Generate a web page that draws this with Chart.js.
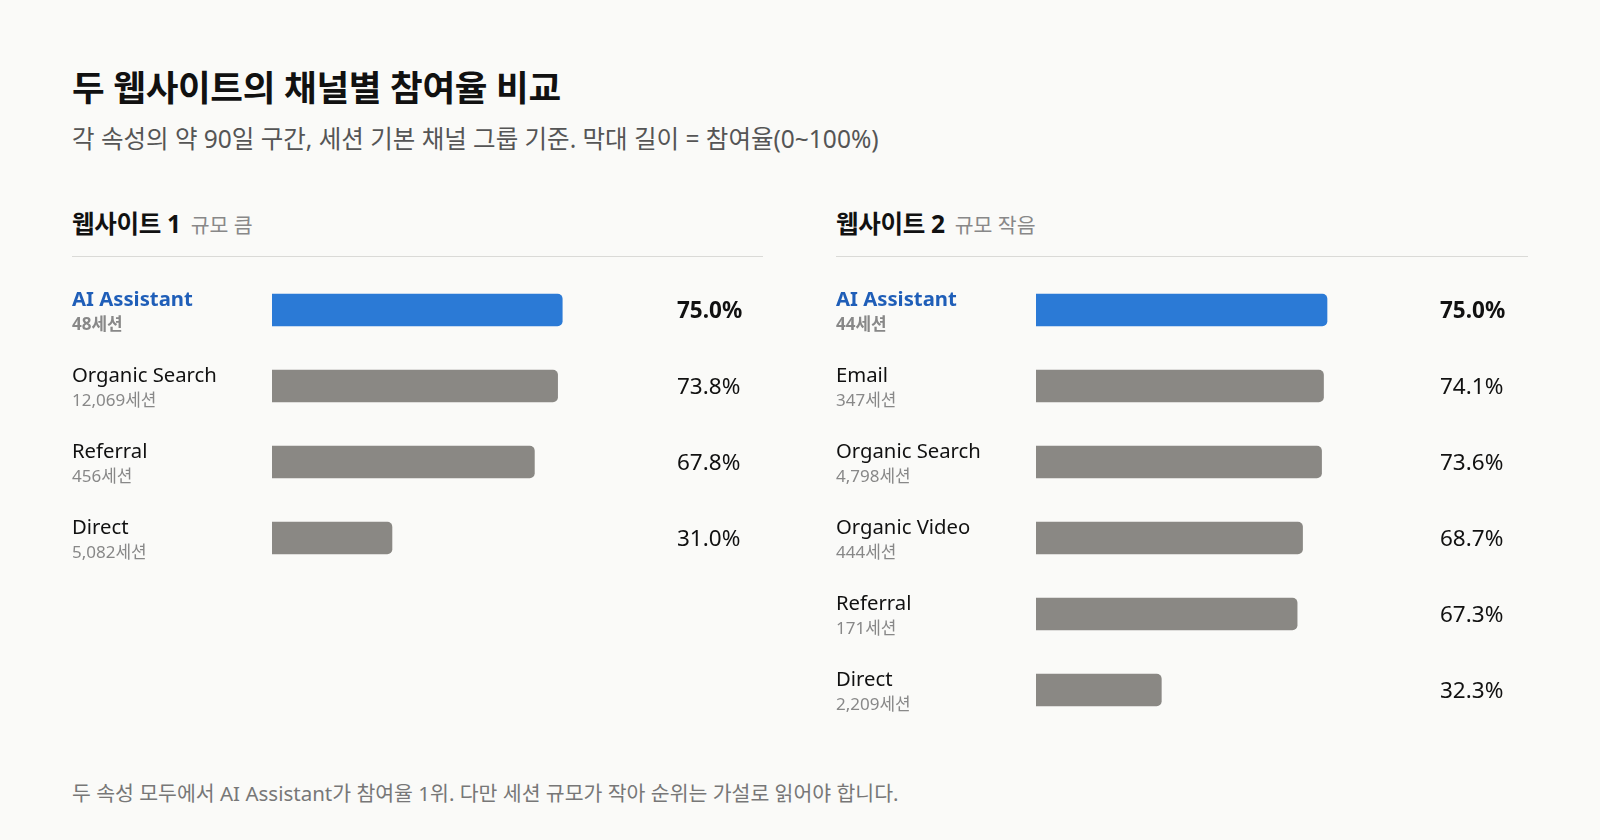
<!DOCTYPE html>
<html lang="ko">
<head>
<meta charset="utf-8">
<script src="https://cdn.jsdelivr.net/npm/chart.js@4"></script>
<style>
  html, body { margin: 0; padding: 0; }
  body {
    width: 1600px; height: 840px; position: relative; overflow: hidden;
    background: #FAFAF8;
    font-family: "Noto Sans", "Noto Sans CJK KR", sans-serif;
    color: #111;
  }
  .title { position: absolute; left: 72px; top: 60px; font-size: 35.5px; font-weight: 700; letter-spacing: -0.3px; }
  .subtitle { position: absolute; left: 72px; top: 120px; font-size: 24.5px; color: #555; letter-spacing: 0px; }
  .panel-head { position: absolute; top: 205px; font-size: 24.5px; font-weight: 700; letter-spacing: -0.3px; }
  .panel-head span { font-size: 20.5px; font-weight: 400; color: #888; margin-left: 10px; letter-spacing: 0; }
  .rule { position: absolute; top: 256px; height: 1px; background: #DADAD7; }
  .chart-box { position: absolute; top: 272px; }
  .footer { position: absolute; left: 72px; top: 777px; font-size: 20.5px; color: #777; letter-spacing: 0px; }
</style>
</head>
<body>
<div class="title">두 웹사이트의 채널별 참여율 비교</div>
<div class="subtitle">각 속성의 약 90일 구간, 세션 기본 채널 그룹 기준. 막대 길이 = 참여율(0~100%)</div>

<div class="panel-head" style="left:72px">웹사이트 1<span>규모 큼</span></div>
<div class="rule" style="left:72px; width:691px"></div>
<div class="chart-box" style="left:72px; width:691px; height:304px"><canvas id="chart1"></canvas></div>

<div class="panel-head" style="left:836px">웹사이트 2<span>규모 작음</span></div>
<div class="rule" style="left:836px; width:692px"></div>
<div class="chart-box" style="left:836px; width:692px; height:456px"><canvas id="chart2"></canvas></div>

<div class="footer">두 속성 모두에서 AI Assistant가 참여율 1위. 다만 세션 규모가 작아 순위는 가설로 읽어야 합니다.</div>

<script>
"use strict";

const site1Channels = ['AI Assistant', 'Organic Search', 'Referral', 'Direct'];
const site1Sessions = [48, 12069, 456, 5082];
const site1Rates = [75.0, 73.8, 67.8, 31.0];

const site2Channels = ['AI Assistant', 'Email', 'Organic Search', 'Organic Video', 'Referral', 'Direct'];
const site2Sessions = [44, 347, 4798, 444, 171, 2209];
const site2Rates = [75.0, 74.1, 73.6, 68.7, 67.3, 32.3];

const highlightChannel = 'AI Assistant';

const BLUE = '#2B7AD6';
const GREY = '#8A8884';
const LATIN = '"Noto Sans", "Noto Sans CJK KR", sans-serif';

// draws the two-line row labels on the left and the % value on the right
const rowLabels = {
    id: 'rowLabels',
    afterDatasetsDraw(chart, args, opts) {
        const ctx = chart.ctx;
        const yScale = chart.scales.y;
        const labels = chart.data.labels;
        const values = chart.data.datasets[0].data;
        ctx.save();
        ctx.textBaseline = 'middle';
        ctx.textAlign = 'left';
        labels.forEach((name, i) => {
            const y = yScale.getPixelForValue(i);
            const hot = name === highlightChannel;

            ctx.font = (hot ? '700 ' : '400 ') + '20.3px ' + LATIN;
            ctx.fillStyle = hot ? '#1F5EB8' : '#111';
            ctx.fillText(name, 0, y - 10);

            ctx.font = (hot ? '700 ' : '400 ') + '17px ' + LATIN;
            ctx.fillStyle = '#888';
            ctx.fillText(opts.sessions[i].toLocaleString('en-US') + '세션', 0, y + 15);

            ctx.font = (hot ? '700 ' : '400 ') + '22.5px ' + LATIN;
            ctx.fillStyle = '#111';
            ctx.fillText(values[i].toFixed(1) + '%', opts.valueX, y + 2);
        });
        ctx.restore();
    }
};

function makeChart(canvasId, channels, sessions, rates, padLeft, padRight, valueX) {
    const ctx = document.getElementById(canvasId).getContext('2d');
    return new Chart(ctx, {
        type: 'bar',
        data: {
            labels: channels,
            datasets: [{
                data: rates,
                backgroundColor: channels.map(c => c === highlightChannel ? BLUE : GREY),
                barThickness: 32,
                borderRadius: 5,
                borderSkipped: 'start'
            }]
        },
        options: {
            indexAxis: 'y',
            responsive: true,
            maintainAspectRatio: false,
            animation: false,
            layout: { padding: { left: padLeft, right: padRight, top: 0, bottom: 0 } },
            scales: {
                x: { min: 0, max: 100, display: false },
                y: { display: false }
            },
            plugins: {
                legend: { display: false },
                tooltip: { enabled: false },
                rowLabels: { sessions: sessions, valueX: valueX }
            }
        },
        plugins: [rowLabels]
    });
}

makeChart('chart1', site1Channels, site1Sessions, site1Rates, 200, 104, 605);
makeChart('chart2', site2Channels, site2Sessions, site2Rates, 200, 104, 604);
</script>
</body>
</html>
